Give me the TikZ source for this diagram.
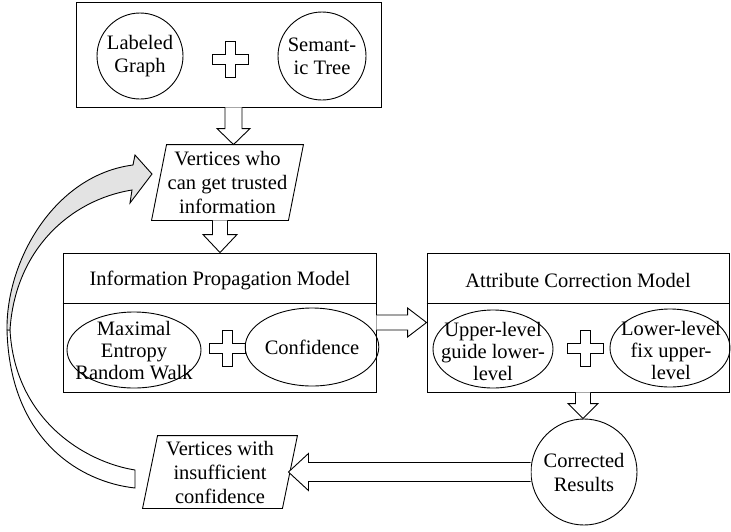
\documentclass[tikz,border=0pt]{standalone}
\usepackage{fontspec}
\setmainfont{Liberation Serif}
\usetikzlibrary{calc,shapes.geometric}

% block arrow: #1 start, #2 tip, #3 shaft half-width, #4 head half-width, #5 head length
\newcommand\blockarrow[5]{%
  \coordinate (babase) at ($(#2)!#5!(#1)$);
  \draw[blockarr] ($(#1)!#3!90:(#2)$) -- ($(babase)!#3!90:(#2)$) -- ($(babase)!#4!90:(#2)$)
    -- (#2) -- ($(babase)!#4!-90:(#2)$) -- ($(babase)!#3!-90:(#2)$) -- ($(#1)!#3!-90:(#2)$);
}

\begin{document}
\begin{tikzpicture}[x=1pt,y=-1pt,line width=0.9pt,
  every node/.style={font=\fontsize{20.5}{24}\selectfont,align=center,inner sep=0pt},
  frame/.style={draw,rectangle},
  ell/.style={draw,ellipse},
  circ/.style={draw,circle,fill=white},
  small/.style={font=\fontsize{20.5}{22}\selectfont},
  blockarr/.style={draw,fill=white,line join=miter},
  plus/.pic={\draw[fill=white] (-5,-18) -- (5,-18) -- (5,-5) -- (18,-5) -- (18,5) -- (5,5)
     -- (5,18) -- (-5,18) -- (-5,5) -- (-18,5) -- (-18,-5) -- (-5,-5) -- cycle;},
]
\useasboundingbox (0,0) rectangle (731,531);

% feedback ribbon: white back part, grey front part with head
\draw[fill=white] (135,488) .. controls (80,482) and (10,440) .. (7,330)
  -- (10,330) .. controls (15,420) and (85,462) .. (135,470) -- cycle;
\draw[fill=gray!22,line join=miter] (7,330) .. controls (6,260) and (55,175) .. (133,165)
  -- (135,155) -- (152,174) -- (130,203) -- (132,190)
  .. controls (70,200) and (15,250) .. (10,330) -- cycle;

% inputs
\node[frame,minimum width=305,minimum height=105] (top) at (228.5,54.5) {};
\node[circ,minimum size=86] (lg) at (140,56) {Labeled\\[-1pt]Graph};
\node[circ,minimum size=88] (st) at (322,56) {Semant-\\[-1pt]ic Tree};
\pic at (230,59) {plus};

% trusted vertices
\node[minimum width=151,minimum height=75] (v1) at (227.5,182.5) {Vertices who\\can get trusted\\information};
\draw ($(v1.north west)+(15,0)$) -- (v1.north east) -- ($(v1.south east)+(-15,0)$) -- (v1.south west) -- cycle;

% information propagation model
\node[frame,minimum width=313,minimum height=139] (ipm) at (219.5,322.5) {};
\draw (ipm.west |- 0,303) -- (ipm.east |- 0,303);
\node (ipmt) at (220,280) {Information Propagation Model};
\node[ell,minimum width=134,minimum height=76] (merw) at (134,350) {};
\node[small] (merwt) at (134,351) {Maximal\\Entropy\\Random Walk};
\pic at (227,348) {plus};
\node[ell,minimum width=120,minimum height=78] (conf) at (312,347) {Confidence};

% attribute correction model
\node[frame,minimum width=302,minimum height=139] (acm) at (578,322.5) {};
\draw (acm.west |- 0,303) -- (acm.east |- 0,303);
\node (acmt) at (578,280) {Attribute Correction Model};
\node[ell,minimum width=120,minimum height=78] (ugl) at (493,349) {};
\node[small] (uglt) at (493,351) {Upper-level\\guide lower-\\level};
\pic at (585,348) {plus};
\node[ell,minimum width=120,minimum height=78] (lfu) at (670,348) {};
\node[small] (lfut) at (671,350) {Lower-level\\fix upper-\\level};

% results
\node[circ,minimum size=106] (res) at (584,472) {Corrected\\Results};

% vertices sent back
\node[minimum width=154,minimum height=72] (v2) at (220,472) {Vertices with\\insufficient\\confidence};
\draw ($(v2.north west)+(15,0)$) -- (v2.north east) -- ($(v2.south east)+(-15,0)$) -- (v2.south west) -- cycle;

% block arrows
\coordinate (a1s) at (233.5,0 |- top.south);
\coordinate (a1t) at (233.5,0 |- v1.north);
\blockarrow{a1s}{a1t}{8.5pt}{16.5pt}{16pt}
\coordinate (a2s) at (220,0 |- v1.south);
\coordinate (a2t) at (220,0 |- ipm.north);
\blockarrow{a2s}{a2t}{7.5pt}{17pt}{18pt}
\blockarrow{ipm.east}{acm.west}{7.5pt}{14.5pt}{19pt}
\coordinate (a3s) at (583,0 |- acm.south);
\coordinate (a3t) at (583,0 |- res.north);
\blockarrow{a3s}{a3t}{7.5pt}{15pt}{15pt}
\coordinate (a5t) at ($(v2.east)+(-9,0)$);
\blockarrow{res.west}{a5t}{9.5pt}{18.5pt}{20pt}
\end{tikzpicture}
\end{document}
